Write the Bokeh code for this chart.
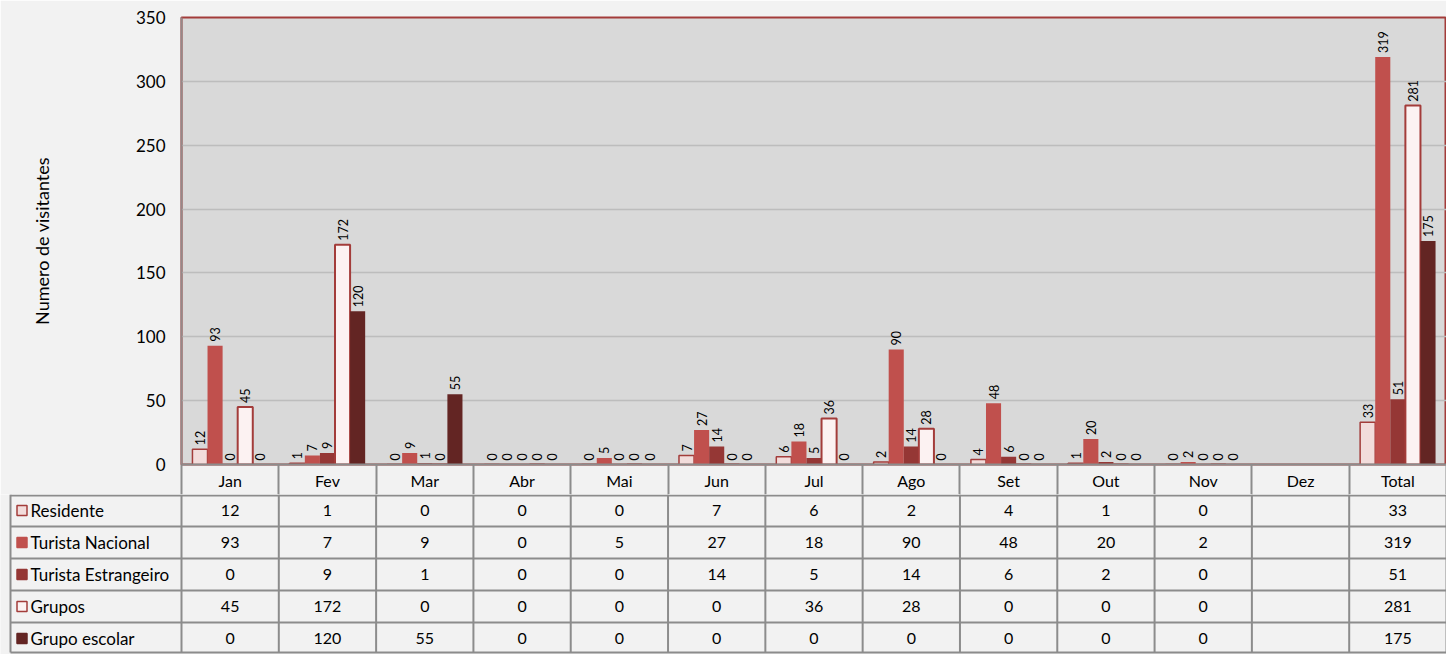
import math
from bokeh.plotting import figure
from bokeh.models import ColumnDataSource, LabelSet, Range1d, FixedTicker
from bokeh.layouts import column
from bokeh.embed import file_html
from bokeh.resources import INLINE
from bokeh.core.properties import value

categories = ["Jan", "Fev", "Mar", "Abr", "Mai", "Jun", "Jul", "Ago", "Set", "Out", "Nov", "Dez", "Total"]
series_names = ["Residente", "Turista Nacional", "Turista Estrangeiro", "Grupos", "Grupo escolar"]
residente = [12, 1, 0, 0, 0, 7, 6, 2, 4, 1, 0, None, 33]
nacional = [93, 7, 9, 0, 5, 27, 18, 90, 48, 20, 2, None, 319]
estrangeiro = [0, 9, 1, 0, 0, 14, 5, 14, 6, 2, 0, None, 51]
grupos = [45, 172, 0, 0, 0, 0, 36, 28, 0, 0, 0, None, 281]
escolar = [0, 120, 55, 0, 0, 0, 0, 0, 0, 0, 0, None, 175]
y_ticks = [0, 50, 100, 150, 200, 250, 300, 350]
y_title = "Numero de visitantes"

series = [residente, nacional, estrangeiro, grupos, escolar]
fills = ["#f2dcdb", "#c0504d", "#953735", "#fcf2f2", "#632523"]
lines = ["#a33c3a", "#c0504d", "#953735", "#a33c3a", "#632523"]
line_w = [1.5, 0, 0, 2, 0]

FONT = "Lato"
BG = "#f2f2f2"
GRID = "#8c8c8c"

W, H = 1446, 654
LEFT, TOP = 181, 17
CHART_PX = 447          # plot area height
HEAD = 30               # header row of the data table (month names, drawn by the x axis)
ROW = 32                # data table row height
TAB_LEFT = 10           # left edge of the data table
n = len(categories)
YMAX = y_ticks[-1]
px_per_cat = (W - LEFT) / n
CH_H = TOP + CHART_PX + HEAD
TAB_H = H - CH_H

# ---------------- chart ----------------
p = figure(width=W, height=CH_H, output_backend="svg", toolbar_location=None,
           x_range=Range1d(-0.5, n - 0.5), y_range=Range1d(0, YMAX),
           min_border_left=LEFT, min_border_right=0, min_border_top=TOP, min_border_bottom=HEAD)
p.frame_align = False
p.background_fill_color = "#d9d9d9"
p.border_fill_color = BG
p.outline_line_color = "#a33c3a"
p.outline_line_width = 2
p.xgrid.visible = False
p.ygrid.ticker = FixedTicker(ticks=y_ticks[1:-1])
p.ygrid.grid_line_color = "#bdbdbd"
p.ygrid.grid_line_width = 1.5

# x axis = header row of the table: month names, column separators as minor ticks
p.xaxis.ticker = FixedTicker(ticks=list(range(n)), minor_ticks=[k - 0.5 for k in range(n + 1)])
p.xaxis.major_label_overrides = {i: c for i, c in enumerate(categories)}
p.xaxis.axis_line_color = GRID
p.xaxis.axis_line_width = 2
p.xaxis.major_tick_line_color = None
p.xaxis.major_tick_in = 0
p.xaxis.major_tick_out = 0
p.xaxis.minor_tick_line_color = GRID
p.xaxis.minor_tick_line_width = 2
p.xaxis.minor_tick_in = 0
p.xaxis.minor_tick_out = HEAD
p.xaxis.major_label_standoff = -24
p.xaxis.major_label_text_font = FONT
p.xaxis.major_label_text_font_size = "16px"
p.xaxis.major_label_text_color = "#000000"

p.yaxis.ticker = FixedTicker(ticks=y_ticks)
p.yaxis.axis_line_color = "#968888"
p.yaxis.axis_line_width = 2
p.yaxis.major_tick_line_color = None
p.yaxis.major_tick_in = 0
p.yaxis.major_tick_out = 0
p.yaxis.minor_tick_line_color = None
p.yaxis.major_label_standoff = 16
p.yaxis.major_label_text_font = FONT
p.yaxis.major_label_text_font_size = "17px"
p.yaxis.major_label_text_color = "#000000"
p.yaxis.axis_label = y_title
p.yaxis.axis_label_text_font = FONT
p.yaxis.axis_label_text_font_size = "18px"
p.yaxis.axis_label_text_font_style = "normal"
p.yaxis.axis_label_text_color = "#000000"
p.yaxis.axis_label_standoff = 80

bw = 0.155
for k, vals in enumerate(series):
    off = (k - 2) * bw
    xs = [i + off for i, v in enumerate(vals) if v is not None]
    ys = [v for v in vals if v is not None]
    src = ColumnDataSource(dict(x=xs, top=ys, lab=[str(v) for v in ys]))
    p.vbar(x="x", top="top", bottom=0, width=bw, source=src,
           fill_color=fills[k], line_color=lines[k] if line_w[k] else None,
           line_width=line_w[k] if line_w[k] else 1)
    p.add_layout(LabelSet(x="x", y="top", text="lab", source=src, angle=math.pi / 2,
                          text_align="left", text_baseline="middle", y_offset=4,
                          text_font=value(FONT), text_font_size="12.5px", text_color="#000000"))

# ---------------- data table rows ----------------
# y in pixels below the header row
t = figure(width=W, height=TAB_H, output_backend="svg", toolbar_location=None,
           x_range=Range1d(-0.5 - LEFT / px_per_cat, n - 0.5), y_range=Range1d(start=TAB_H, end=0),
           min_border=0)
t.frame_align = False
t.background_fill_color = BG
t.border_fill_color = BG
t.outline_line_color = None
t.axis.visible = False
t.grid.visible = False

BOTTOM = ROW * 5 - 2
left_edge = -0.5 - (LEFT - TAB_LEFT) / px_per_cat

vx = [left_edge] + [k - 0.5 for k in range(n + 1)]
t.segment(x0=vx, y0=[0] * len(vx), x1=vx, y1=[BOTTOM] * len(vx), line_color=GRID, line_width=2)
hy = [1] + [ROW * i for i in range(1, 5)] + [BOTTOM]
t.segment(x0=[left_edge] * len(hy), y0=hy, x1=[n - 0.5] * len(hy), y1=hy, line_color=GRID, line_width=2)

key_w = 10 / px_per_cat
kx = left_edge + 11.5 / px_per_cat
for k, vals in enumerate(series):
    yc = ROW * k + ROW / 2
    txt = ["" if v is None else str(v) for v in vals]
    t.text(x=list(range(n)), y=[yc] * n, text=txt, text_align="center", text_baseline="middle",
           text_font=value(FONT), text_font_size="16px", text_color="#000000")
    t.rect(x=[kx], y=[yc], width=10, height=10, width_units="screen", height_units="screen",
           fill_color=fills[k], line_color=lines[k], line_width=1.5)
    t.text(x=[left_edge + 20 / px_per_cat], y=[yc], text=[series_names[k]], text_align="left",
           text_baseline="middle", text_font=value(FONT), text_font_size="17px", text_color="#000000")

layout = column(p, t, spacing=0)
open("out.html", "w").write(file_html(layout, INLINE))
